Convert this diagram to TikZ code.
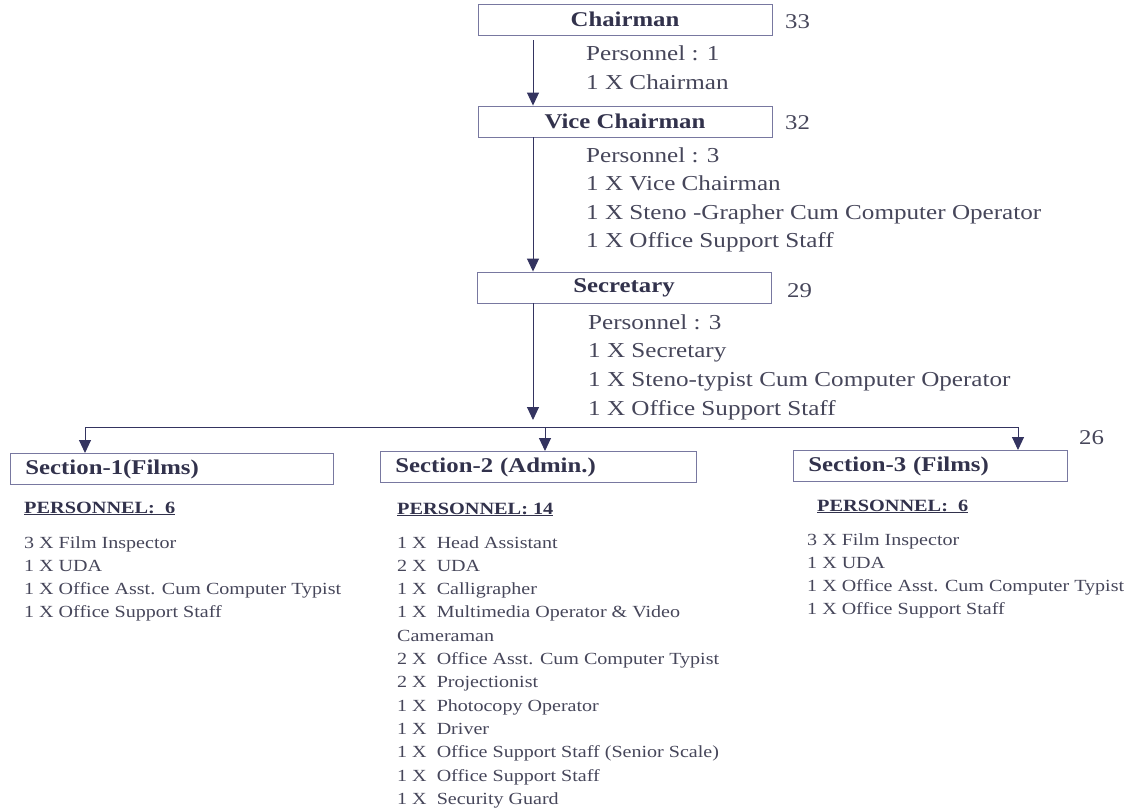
\documentclass[tikz,border=0pt]{standalone}
\usepackage{fontspec}
\setmainfont{Liberation Serif}[FakeStretch=1.18]
\usepackage{xcolor}
\usetikzlibrary{arrows.meta}
\definecolor{inkgray}{RGB}{70,70,90}
\definecolor{titlegray}{RGB}{50,50,76}
\definecolor{boxgray}{RGB}{120,120,160}
\definecolor{linkblue}{RGB}{52,52,96}
\tikzset{
	post/.style={draw=boxgray, line width=0.9pt, text=titlegray, font=\fontsize{21}{24}\selectfont\bfseries, minimum height=31pt, inner sep=0pt},
	secbox/.style={post, anchor=north west, align=left, inner xsep=15pt},
	duty/.style={anchor=base west, inner sep=0pt, text=inkgray, font=\fontsize{21.3}{25}\selectfont},
	staff/.style={anchor=base west, inner sep=0pt, text=inkgray, font=\fontsize{17}{20}\selectfont},
	strength/.style={anchor=base west, inner sep=0pt, text=titlegray, font=\fontsize{17.2}{20}\selectfont\bfseries},
	grade/.style={anchor=base west, inner sep=0pt, text=inkgray, font=\fontsize{21}{24}\selectfont},
	wire/.style={draw=linkblue, line width=1pt},
	link/.style={wire, -{Triangle[width=12pt,length=13pt]}}
}
\begin{document}
\begin{tikzpicture}[x=1pt,y=-1pt]
	\useasboundingbox (0,0) rectangle (1130,811);
	\coordinate (spine) at (533,0);
	
	% top posts
	\node[post, minimum width=294pt] (chair) at (625,19.5) {Chairman};
	\node[post, minimum width=294pt] (vice) at (625,121.5) {Vice Chairman};
	\node[post, minimum width=294pt] (secy) at (624,287.5) {Secretary};
	
	\node[grade] (g33) at (785,28) {33};
	\node[grade] (g32) at (785,129) {32};
	\node[grade] (g29) at (787,297) {29};
	\node[grade] (g26) at (1079,444) {26};
	
	\foreach \line [count=\i] in {Personnel : 1, 1 X Chairman}
		\node[duty] (chairl\i) at (586,{60+29*(\i-1)}) {\line};
	\foreach \line [count=\i] in {Personnel : 3, 1 X Vice Chairman, 1 X Steno -Grapher Cum Computer Operator, 1 X Office Support Staff}
		\node[duty] (vicel\i) at (586,{162+28.5*(\i-1)}) {\line};
	\foreach \line [count=\i] in {Personnel : 3, 1 X Secretary, 1 X Steno-typist Cum Computer Operator, 1 X Office Support Staff}
		\node[duty] (secyl\i) at (588,{329+28.7*(\i-1)}) {\line};
	
	% sections
	\node[secbox, text width=293pt] (sec1) at (10,453) {Section-1(Films)};
	\node[secbox, text width=286pt] (sec2) at (380,451) {Section-2 (Admin.)};
	\node[secbox, text width=244pt] (sec3) at (793,450) {Section-3 (Films)};
	
	\node[strength] (str1) at (24,513) {\underline{PERSONNEL:\ \ 6}};
	\node[strength] (str2) at (397,514) {\underline{PERSONNEL:\ 14}};
	\node[strength] (str3) at (817,511) {\underline{PERSONNEL:\ \ 6}};
	
	\foreach \line [count=\i] in {3 X Film Inspector, 1 X UDA, 1 X Office Asst. Cum Computer Typist, 1 X Office Support Staff}
		\node[staff] (sec1l\i) at (24,{548+23.2*(\i-1)}) {\line};
	\foreach \line [count=\i] in {1 X~ Head Assistant, 2 X~ UDA, 1 X~ Calligrapher, 1 X~ Multimedia Operator \& Video, Cameraman, 2 X~ Office Asst. Cum Computer Typist, 2 X~ Projectionist, 1 X~ Photocopy Operator, 1 X~ Driver, 1 X~ Office Support Staff (Senior Scale), 1 X~ Office Support Staff, 1 X~ Security Guard}
		\node[staff] (sec2l\i) at (397,{548+23.3*(\i-1)}) {\line};
	\foreach \line [count=\i] in {3 X Film Inspector, 1 X UDA, 1 X Office Asst. Cum Computer Typist, 1 X Office Support Staff}
		\node[staff] (sec3l\i) at (807,{545+23.2*(\i-1)}) {\line};
	
	% connectors
	\coordinate (bus) at (533,420);
	\coordinate (busL) at (85,427);
	\coordinate (busM) at (545,427);
	\coordinate (busR) at (1018,427);
	
	\draw[link] ([yshift=-5pt]chair.south -| spine) -- (vice.north -| spine);
	\draw[link] (vice.south -| spine) -- (secy.north -| spine);
	\draw[link] (secy.south -| spine) -- (bus);
	\draw[wire] (busL) -- (busR);
	\draw[link] (busL) -- (sec1.north -| busL);
	\draw[link] (busM) -- (sec2.north -| busM);
	\draw[link] (busR) -- (sec3.north -| busR);
\end{tikzpicture}
\end{document}
